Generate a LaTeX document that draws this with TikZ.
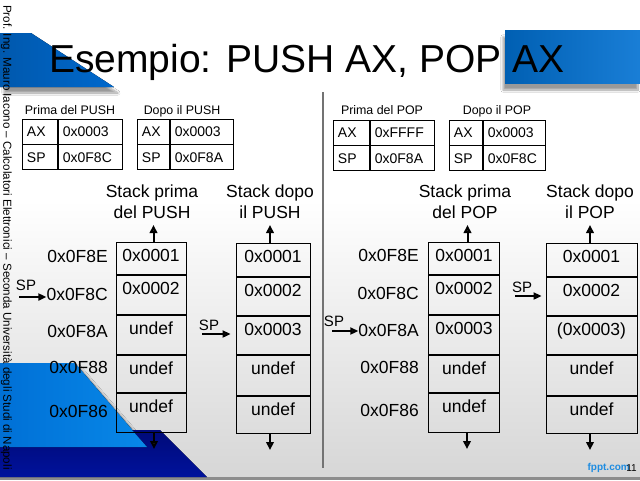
\documentclass[tikz,border=0pt]{standalone}
\usepackage{fontspec}
\setmainfont{Liberation Sans}
\usetikzlibrary{arrows.meta,shadows.blur,calc}
\definecolor{blueTL}{RGB}{0,104,204}
\definecolor{blueTR}{RGB}{0,112,210}
\definecolor{blueLight}{RGB}{8,136,232}
\definecolor{blueLightD}{RGB}{0,112,214}
\definecolor{navy}{RGB}{0,18,156}
\definecolor{navyD}{RGB}{0,10,120}
\definecolor{fpptblue}{RGB}{30,140,225}
\begin{document}
\begin{tikzpicture}[x=1pt,y=-1pt,
  cellbox/.style n args={3}{draw, line width=0.9pt, inner sep=0pt, anchor=north,
    minimum width=#1, minimum height=#2, text height=19pt, text depth=#3,
    font=\fontsize{17.5}{21}\selectfont},
  regcell/.style={draw, line width=0.9pt, anchor=north west, inner sep=0pt, inner xsep=4.5pt,
    minimum height=24.5pt, text height=10pt, text depth=0pt, align=left, text width=#1,
    font=\fontsize{14}{16}\selectfont},
  reglabel/.style={inner sep=0pt, text height=8.9pt, text depth=0pt, font=\fontsize{12.4}{14}\selectfont},
  addr/.style={anchor=east, inner sep=0pt, text height=12.5pt, text depth=0pt, font=\fontsize{17.5}{21}\selectfont},
  heading/.style={anchor=north, inner sep=0pt, align=center, font=\fontsize{17.5}{21}\selectfont},
  splabel/.style={inner sep=0pt, text height=10.7pt, text depth=0pt, font=\fontsize{15}{17}\selectfont},
  arr/.style={line width=2pt, -{Triangle[width=7.5pt,length=8pt]}},
  sparr/.style={line width=2pt, -{Triangle[width=7pt,length=8pt]}}
]
\useasboundingbox (0,0) rectangle (640,480);
% background
\fill[white] (0,0) rectangle (640,480);
\shade[top color=white, bottom color=black!16] (0,200) rectangle (640,478);
\fill[black!45] (0,477) rectangle (640,480);
% decorations
\fill[left color=blueLightD, right color=blueLight, blur shadow={shadow xshift=4pt, shadow yshift=-4pt, shadow blur steps=8, shadow opacity=35}]
  (0,363) -- (75,363) -- (147,447) -- (0,447) -- cycle;
\fill[top color=navyD, bottom color=navy] (0,430) -- (160,430) -- (207,477) -- (0,477) -- cycle;
\fill[left color=blueLightD, right color=blueLight] (0,430) -- (132,430) -- (147,447) -- (0,447) -- cycle;
\fill[left color=blueTL!85!black, right color=blueTL, blur shadow={shadow xshift=4pt, shadow yshift=-6pt, shadow blur steps=10, shadow opacity=40}]
  (0,33) -- (31,33) -- (114,87) -- (0,87) -- cycle;
\fill[left color=blueTR!85!black, right color=blueTR!90!white, blur shadow={shadow xshift=-2pt, shadow yshift=-7pt, shadow blur steps=10, shadow opacity=40}]
  (505,30) rectangle (640,83);
% title
\node[anchor=base west, inner sep=0pt, font=\fontsize{39}{44}\selectfont] (title) at (49,72) {Esempio: PUSH AX, POP AX};
% sidebar
\node[rotate=-90, anchor=north west, inner sep=0pt, font=\fontsize{11.6}{13}\selectfont] (side) at (12,5) {Prof. Ing. Mauro Iacono -- Calcolatori Elettronici -- Seconda Università degli Studi di Napoli};
% divider
\draw[black!55, line width=1.3pt] (323,92) -- (323,468);
% footer
\node[anchor=east, inner sep=0pt, text=fpptblue, font=\bfseries\fontsize{10}{12}\selectfont] (fppt) at (630,468) {fppt.com};
\node[anchor=east, inner sep=0pt, font=\fontsize{10}{12}\selectfont] (pnum) at (637,468) {11};

% ---------- register tables ----------
\node[reglabel] (l1) at (70,110) {Prima del PUSH};
\node[regcell=26pt] (t1a) at (22,119) {AX};
\node[regcell=55pt] (t1b) at (t1a.north east) {0x0003};
\node[regcell=26pt] (t1c) at (t1a.south west) {SP};
\node[regcell=55pt] (t1d) at (t1c.north east) {0x0F8C};

\node[reglabel] (l2) at (182,110) {Dopo il PUSH};
\node[regcell=23pt] (t2a) at (137,119) {AX};
\node[regcell=54pt] (t2b) at (t2a.north east) {0x0003};
\node[regcell=23pt] (t2c) at (t2a.south west) {SP};
\node[regcell=54pt] (t2d) at (t2c.north east) {0x0F8A};

\node[reglabel] (l3) at (382,110) {Prima del POP};
\node[regcell=27pt] (t3a) at (333,120) {AX};
\node[regcell=55pt] (t3b) at (t3a.north east) {0xFFFF};
\node[regcell=27pt] (t3c) at (t3a.south west) {SP};
\node[regcell=55pt] (t3d) at (t3c.north east) {0x0F8A};

\node[reglabel] (l4) at (497,110) {Dopo il POP};
\node[regcell=24pt] (t4a) at (449,120) {AX};
\node[regcell=53pt] (t4b) at (t4a.north east) {0x0003};
\node[regcell=24pt] (t4c) at (t4a.south west) {SP};
\node[regcell=53pt] (t4d) at (t4c.north east) {0x0F8C};

% ---------- stack 1 ----------
\node[heading] (h1) at (152,184.5) {Stack prima\\del PUSH};
\node[cellbox={70pt}{32pt}{13pt}] (s1c1) at (151,242) {0x0001};
\node[cellbox={70pt}{39pt}{20pt}] (s1c2) at (s1c1.south) {0x0002};
\node[cellbox={70pt}{39pt}{20pt}] (s1c3) at (s1c2.south) {undef};
\node[cellbox={70pt}{37pt}{18pt}] (s1c4) at (s1c3.south) {undef};
\node[cellbox={70pt}{39pt}{20pt}] (s1c5) at (s1c4.south) {undef};
\coordinate (s1up) at (153.5,225);
\coordinate (s1dn) at (154,449);
\draw[arr] (s1c1.north -| s1up) -- (s1up);
\draw[arr] (s1c5.south -| s1dn) -- (s1dn);
\node[addr] (a1e) at (108,256) {0x0F8E};
\node[addr] (a1c) at (108,294) {0x0F8C};
\node[addr] (a1a) at (108,331) {0x0F8A};
\node[addr] (a18) at (108,367) {0x0F88};
\node[addr] (a16) at (108,411) {0x0F86};
\node[splabel] (sp1) at (26,285) {SP};
\coordinate (sp1t) at (19,297);
\draw[sparr] (sp1t) -- (sp1t -| a1c.west);

% ---------- stack 2 ----------
\node[heading] (h2) at (270,184.5) {Stack dopo\\il PUSH};
\node[cellbox={74pt}{33pt}{14pt}] (s2c1) at (273,243) {0x0001};
\node[cellbox={74pt}{38pt}{19pt}] (s2c2) at (s2c1.south) {0x0002};
\node[cellbox={74pt}{38pt}{19pt}] (s2c3) at (s2c2.south) {0x0003};
\node[cellbox={74pt}{40pt}{21pt}] (s2c4) at (s2c3.south) {undef};
\node[cellbox={74pt}{37pt}{18pt}] (s2c5) at (s2c4.south) {undef};
\coordinate (s2up) at (270,225);
\coordinate (s2dn) at (270,450);
\draw[arr] (s2c1.north -| s2up) -- (s2up);
\draw[arr] (s2c5.south -| s2dn) -- (s2dn);
\node[splabel] (sp2) at (209,325) {SP};
\coordinate (sp2t) at (202,334);
\draw[sparr, shorten >=5pt] (sp2t) -- (sp2t -| s2c3.west);

% ---------- stack 3 ----------
\node[heading] (h3) at (465,184.5) {Stack prima\\del POP};
\node[cellbox={71pt}{32pt}{13pt}] (s3c1) at (464,242) {0x0001};
\node[cellbox={71pt}{39pt}{20pt}] (s3c2) at (s3c1.south) {0x0002};
\node[cellbox={71pt}{39pt}{20pt}] (s3c3) at (s3c2.south) {0x0003};
\node[cellbox={71pt}{37pt}{18pt}] (s3c4) at (s3c3.south) {undef};
\node[cellbox={71pt}{39pt}{20pt}] (s3c5) at (s3c4.south) {undef};
\coordinate (s3up) at (467.5,225);
\coordinate (s3dn) at (467,449);
\draw[arr] (s3c1.north -| s3up) -- (s3up);
\draw[arr] (s3c5.south -| s3dn) -- (s3dn);
\node[addr] (b1e) at (419,255) {0x0F8E};
\node[addr] (b1c) at (419,293) {0x0F8C};
\node[addr] (b1a) at (419,330) {0x0F8A};
\node[addr] (b18) at (419,367) {0x0F88};
\node[addr] (b16) at (419,410) {0x0F86};
\node[splabel] (sp3) at (334,321) {SP};
\coordinate (sp3t) at (332,331);
\draw[sparr] (sp3t) -- (sp3t -| b1a.west);

% ---------- stack 4 ----------
\node[heading] (h4) at (590,184.5) {Stack dopo\\il POP};
\node[cellbox={91pt}{33pt}{14pt}] (s4c1) at (591.5,243) {0x0001};
\node[cellbox={91pt}{38pt}{19pt}] (s4c2) at (s4c1.south) {0x0002};
\node[cellbox={91pt}{38pt}{19pt}] (s4c3) at (s4c2.south) {(0x0003)};
\node[cellbox={91pt}{40pt}{21pt}] (s4c4) at (s4c3.south) {undef};
\node[cellbox={91pt}{37pt}{18pt}] (s4c5) at (s4c4.south) {undef};
\coordinate (s4up) at (590,225);
\coordinate (s4dn) at (590,450);
\draw[arr] (s4c1.north -| s4up) -- (s4up);
\draw[arr] (s4c5.south -| s4dn) -- (s4dn);
\node[splabel] (sp4) at (522,287) {SP};
\coordinate (sp4t) at (515,296);
\draw[sparr, shorten >=4pt] (sp4t) -- (sp4t -| s4c2.west);
\end{tikzpicture}
\end{document}
